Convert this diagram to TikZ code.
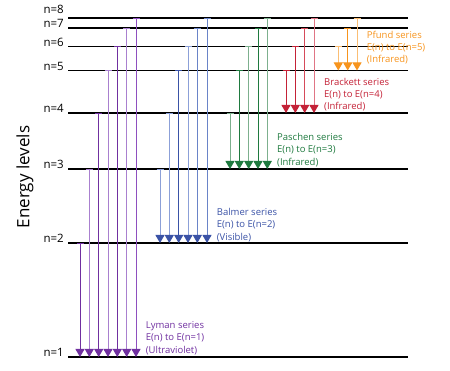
\documentclass[tikz,border=0pt]{standalone}
\usepackage{fontspec}
\setmainfont{Open Sans}
\usetikzlibrary{arrows.meta}
\definecolor{lymanD}{HTML}{7030A0}
\definecolor{lymanL}{HTML}{A980CF}
\definecolor{lymanM}{HTML}{8E4FBF}
\definecolor{balmerD}{HTML}{3A52A6}
\definecolor{balmerL}{HTML}{8CA0D8}
\definecolor{balmerM}{HTML}{6A84C8}
\definecolor{paschenD}{HTML}{1F7A3F}
\definecolor{paschenL}{HTML}{7DB08E}
\definecolor{brackettD}{HTML}{C42237}
\definecolor{brackettM}{HTML}{D64A5A}
\definecolor{brackettL}{HTML}{E07585}
\definecolor{pfundD}{HTML}{F7941D}
\definecolor{pfundL}{HTML}{FBBE74}
\begin{document}
\begin{tikzpicture}[x=1pt,y=-1pt,line join=round,
	level/.style={line width=1.8pt},
	lvllabel/.style={anchor=base east,inner sep=0pt,font=\fontsize{11.5}{12}\selectfont},
	trans/.style 2 args={line width=1pt,draw=#1,arrows={Bar[width=7pt]-Triangle[width=9pt,length=8pt,color=#2]}},
	series/.style={anchor=west,align=left,inner sep=0pt,text=#1,font=\fontsize{9.5}{12.3}\selectfont}]
	\useasboundingbox (0,0) rectangle (450,371);
	% energy levels
	\foreach \n/\y in {1/357,2/243,3/169,4/113,5/70.5,6/46.5,7/28,8/18}
		\draw[level] (68,\y) coordinate (L\n) -- (408,\y);
	\foreach \n/\y in {1/357,2/243,3/169,4/113,5/70.5,6/46.5,7/28,8/14}
		\node[lvllabel] (n\n) at (64,\y) {n=\n};
	\node[rotate=90,font=\fontsize{17}{19}\selectfont] (axis) at (25,177) {Energy levels};
	% Lyman
	\foreach \n/\x/\c in {2/80/lymanD,3/89.3/lymanL,4/98.7/lymanD,5/108/lymanL,6/117.3/lymanD,7/126.7/lymanL,8/136/lymanM}
		\draw[trans={\c}{lymanD}] (\x,0 |- L\n) -- (\x,0 |- L1);
	% Balmer
	\foreach \n/\x/\c in {3/160/balmerL,4/169.3/balmerL,5/178.7/balmerD,6/188/balmerL,7/197.3/balmerM,8/207/balmerM}
		\draw[trans={\c}{balmerD}] (\x,0 |- L\n) -- (\x,0 |- L2);
	% Paschen
	\foreach \n/\x/\c in {4/230/paschenL,5/239.3/paschenD,6/248.7/paschenL,7/258/paschenD,8/267.3/paschenL}
		\draw[trans={\c}{paschenD}] (\x,0 |- L\n) -- (\x,0 |- L3);
	% Brackett
	\foreach \n/\x/\c in {5/286/brackettD,6/295.3/brackettD,7/304.7/brackettM,8/314/brackettL}
		\draw[trans={\c}{brackettD}] (\x,0 |- L\n) -- (\x,0 |- L4);
	% Pfund
	\foreach \n/\x/\c in {6/338.3/pfundL,7/347.7/pfundD,8/357/pfundL}
		\draw[trans={\c}{pfundD}] (\x,0 |- L\n) -- (\x,0 |- L5);
	% series labels
	\node[series=lymanD] (lyman) at (145.7,338) {Lyman series\\E(n) to E(n=1)\\(Ultraviolet)};
	\node[series=balmerD] (balmer) at (216.7,225) {Balmer series\\E(n) to E(n=2)\\(Visible)};
	\node[series=paschenD] (paschen) at (277,150) {Paschen series\\E(n) to E(n=3)\\(Infrared)};
	\node[series=brackettD] (brackett) at (324,94.5) {Brackett series\\E(n) to E(n=4)\\(Infrared)};
	\node[series=pfundD] (pfund) at (366.7,47.5) {Pfund series\\E(n) to E(n=5)\\(Infrared)};
\end{tikzpicture}
\end{document}
